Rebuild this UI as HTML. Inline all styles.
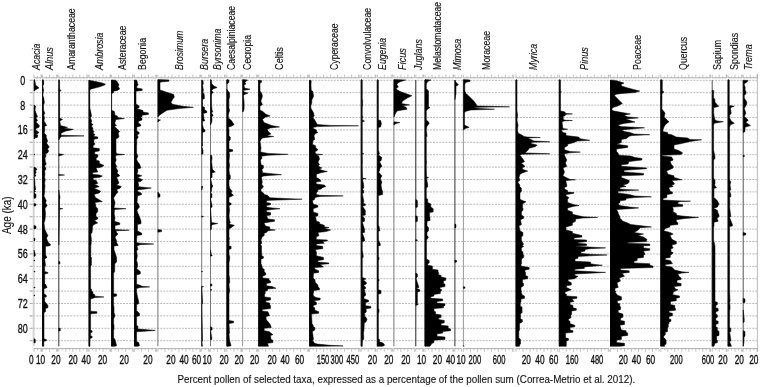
<!DOCTYPE html><html><head><meta charset="utf-8"><style>html,body{margin:0;padding:0;background:#fff;}svg{display:block;} text{stroke:#111;stroke-width:0.12px;} text.n{stroke-width:0.35px;}</style></head><body>
<svg font-family="Liberation Sans, Arial, sans-serif" fill="#111" width="760" height="387" viewBox="0 0 760 387">
<rect width="760" height="387" fill="#fff"/>
<path d="M30 80.3H757M30 92.7H757M30 105.1H757M30 117.5H757M30 129.9H757M30 142.3H757M30 154.7H757M30 167.1H757M30 179.5H757M30 191.9H757M30 204.3H757M30 216.7H757M30 229.1H757M30 241.5H757M30 253.9H757M30 266.3H757M30 278.7H757M30 291.1H757M30 303.5H757M30 315.9H757M30 328.3H757M30 340.7H757" stroke="#b4b4b4" stroke-width="0.9" stroke-dasharray="2 1.1" fill="none"/>
<path d="M29.5 80.3H33M29.5 92.7H33M29.5 105.1H33M29.5 117.5H33M29.5 129.9H33M29.5 142.3H33M29.5 154.7H33M29.5 167.1H33M29.5 179.5H33M29.5 191.9H33M29.5 204.3H33M29.5 216.7H33M29.5 229.1H33M29.5 241.5H33M29.5 253.9H33M29.5 266.3H33M29.5 278.7H33M29.5 291.1H33M29.5 303.5H33M29.5 315.9H33M29.5 328.3H33M29.5 340.7H33" stroke="#aaa" stroke-width="0.8" fill="none"/>
<path d="M33.2 80.0V346.3" stroke="#c8c8c8" stroke-width="0.8" fill="none"/>
<path d="M757.4 74V351" stroke="#aaa" stroke-width="0.8" fill="none"/>
<path d="M33.5 77.8H41.5M33.5 348.6H41.5M42.1 77.8H57.5M42.1 348.6H57.5M58.3 77.8H88.0M58.3 348.6H88.0M88.5 77.8H110.5M88.5 348.6H110.5M111.1 77.8H133.2M111.1 348.6H133.2M134.1 77.8H156.5M134.1 348.6H156.5M157.4 77.8H200.4M157.4 348.6H200.4M201.2 77.8H209.2M201.2 348.6H209.2M210.0 77.8H225.8M210.0 348.6H225.8M226.4 77.8H241.6M226.4 348.6H241.6M242.1 77.8H257.5M242.1 348.6H257.5M258.2 77.8H308.5M258.2 348.6H308.5M309.1 77.8H360.0M309.1 348.6H360.0M360.7 77.8H375.8M360.7 348.6H375.8M376.8 77.8H392.6M376.8 348.6H392.6M393.4 77.8H414.5M393.4 348.6H414.5M415.3 77.8H423.4M415.3 348.6H423.4M424.5 77.8H453.6M424.5 348.6H453.6M454.4 77.8H461.6M454.4 348.6H461.6M462.9 77.8H513.8M462.9 348.6H513.8M515.5 77.8H557.8M515.5 348.6H557.8M558.8 77.8H609.0M558.8 348.6H609.0M610.0 77.8H659.0M610.0 348.6H659.0M660.3 77.8H710.5M660.3 348.6H710.5M711.7 77.8H726.5M711.7 348.6H726.5M727.5 77.8H742.0M727.5 348.6H742.0M742.7 77.8H757.4M742.7 348.6H757.4" stroke="#9a9a9a" stroke-width="0.8" fill="none"/>
<path d="M34.0 77.8v-3.2M34.0 348.6v3.2M37.5 77.8v-1.6M37.5 348.6v1.6M41.0 77.8v-3.2M41.0 348.6v3.2M41.5 77.8v-3.2M41.5 348.6v3.2M42.6 77.8v-3.2M42.6 348.6v3.2M46.1 77.8v-1.6M46.1 348.6v1.6M49.6 77.8v-3.2M49.6 348.6v3.2M53.1 77.8v-1.6M53.1 348.6v1.6M56.6 77.8v-3.2M56.6 348.6v3.2M57.5 77.8v-3.2M57.5 348.6v3.2M58.8 77.8v-3.2M58.8 348.6v3.2M62.3 77.8v-1.6M62.3 348.6v1.6M65.8 77.8v-3.2M65.8 348.6v3.2M69.3 77.8v-1.6M69.3 348.6v1.6M72.8 77.8v-3.2M72.8 348.6v3.2M76.3 77.8v-1.6M76.3 348.6v1.6M79.8 77.8v-3.2M79.8 348.6v3.2M83.3 77.8v-1.6M83.3 348.6v1.6M86.8 77.8v-3.2M86.8 348.6v3.2M88.0 77.8v-3.2M88.0 348.6v3.2M89.0 77.8v-3.2M89.0 348.6v3.2M92.5 77.8v-1.6M92.5 348.6v1.6M96.0 77.8v-3.2M96.0 348.6v3.2M99.5 77.8v-1.6M99.5 348.6v1.6M103.0 77.8v-3.2M103.0 348.6v3.2M106.5 77.8v-1.6M106.5 348.6v1.6M110.0 77.8v-3.2M110.0 348.6v3.2M110.5 77.8v-3.2M110.5 348.6v3.2M111.6 77.8v-3.2M111.6 348.6v3.2M115.1 77.8v-1.6M115.1 348.6v1.6M118.6 77.8v-3.2M118.6 348.6v3.2M122.1 77.8v-1.6M122.1 348.6v1.6M125.6 77.8v-3.2M125.6 348.6v3.2M129.1 77.8v-1.6M129.1 348.6v1.6M132.6 77.8v-3.2M132.6 348.6v3.2M133.2 77.8v-3.2M133.2 348.6v3.2M134.6 77.8v-3.2M134.6 348.6v3.2M138.1 77.8v-1.6M138.1 348.6v1.6M141.6 77.8v-3.2M141.6 348.6v3.2M145.1 77.8v-1.6M145.1 348.6v1.6M148.6 77.8v-3.2M148.6 348.6v3.2M152.1 77.8v-1.6M152.1 348.6v1.6M155.6 77.8v-3.2M155.6 348.6v3.2M156.5 77.8v-3.2M156.5 348.6v3.2M157.9 77.8v-3.2M157.9 348.6v3.2M161.4 77.8v-1.6M161.4 348.6v1.6M164.9 77.8v-3.2M164.9 348.6v3.2M168.4 77.8v-1.6M168.4 348.6v1.6M171.9 77.8v-3.2M171.9 348.6v3.2M175.4 77.8v-1.6M175.4 348.6v1.6M178.9 77.8v-3.2M178.9 348.6v3.2M182.4 77.8v-1.6M182.4 348.6v1.6M185.9 77.8v-3.2M185.9 348.6v3.2M189.4 77.8v-1.6M189.4 348.6v1.6M192.9 77.8v-3.2M192.9 348.6v3.2M196.4 77.8v-1.6M196.4 348.6v1.6M199.9 77.8v-3.2M199.9 348.6v3.2M200.4 77.8v-3.2M200.4 348.6v3.2M201.7 77.8v-3.2M201.7 348.6v3.2M205.2 77.8v-1.6M205.2 348.6v1.6M208.7 77.8v-3.2M208.7 348.6v3.2M209.2 77.8v-3.2M209.2 348.6v3.2M210.5 77.8v-3.2M210.5 348.6v3.2M214.0 77.8v-1.6M214.0 348.6v1.6M217.5 77.8v-3.2M217.5 348.6v3.2M221.0 77.8v-1.6M221.0 348.6v1.6M224.5 77.8v-3.2M224.5 348.6v3.2M225.8 77.8v-3.2M225.8 348.6v3.2M226.9 77.8v-3.2M226.9 348.6v3.2M230.4 77.8v-1.6M230.4 348.6v1.6M233.9 77.8v-3.2M233.9 348.6v3.2M237.4 77.8v-1.6M237.4 348.6v1.6M240.9 77.8v-3.2M240.9 348.6v3.2M241.6 77.8v-3.2M241.6 348.6v3.2M242.6 77.8v-3.2M242.6 348.6v3.2M246.1 77.8v-1.6M246.1 348.6v1.6M249.6 77.8v-3.2M249.6 348.6v3.2M253.1 77.8v-1.6M253.1 348.6v1.6M256.6 77.8v-3.2M256.6 348.6v3.2M257.5 77.8v-3.2M257.5 348.6v3.2M258.7 77.8v-3.2M258.7 348.6v3.2M262.2 77.8v-1.6M262.2 348.6v1.6M265.7 77.8v-3.2M265.7 348.6v3.2M269.2 77.8v-1.6M269.2 348.6v1.6M272.7 77.8v-3.2M272.7 348.6v3.2M276.2 77.8v-1.6M276.2 348.6v1.6M279.7 77.8v-3.2M279.7 348.6v3.2M283.2 77.8v-1.6M283.2 348.6v1.6M286.7 77.8v-3.2M286.7 348.6v3.2M290.2 77.8v-1.6M290.2 348.6v1.6M293.7 77.8v-3.2M293.7 348.6v3.2M297.2 77.8v-1.6M297.2 348.6v1.6M300.7 77.8v-3.2M300.7 348.6v3.2M304.2 77.8v-1.6M304.2 348.6v1.6M307.7 77.8v-3.2M307.7 348.6v3.2M308.5 77.8v-3.2M308.5 348.6v3.2M309.6 77.8v-3.2M309.6 348.6v3.2M313.1 77.8v-1.6M313.1 348.6v1.6M316.6 77.8v-3.2M316.6 348.6v3.2M320.1 77.8v-1.6M320.1 348.6v1.6M323.6 77.8v-3.2M323.6 348.6v3.2M327.1 77.8v-1.6M327.1 348.6v1.6M330.6 77.8v-3.2M330.6 348.6v3.2M334.1 77.8v-1.6M334.1 348.6v1.6M337.6 77.8v-3.2M337.6 348.6v3.2M341.1 77.8v-1.6M341.1 348.6v1.6M344.6 77.8v-3.2M344.6 348.6v3.2M348.1 77.8v-1.6M348.1 348.6v1.6M351.6 77.8v-3.2M351.6 348.6v3.2M355.1 77.8v-1.6M355.1 348.6v1.6M358.6 77.8v-3.2M358.6 348.6v3.2M360.0 77.8v-3.2M360.0 348.6v3.2M361.2 77.8v-3.2M361.2 348.6v3.2M364.7 77.8v-1.6M364.7 348.6v1.6M368.2 77.8v-3.2M368.2 348.6v3.2M371.7 77.8v-1.6M371.7 348.6v1.6M375.2 77.8v-3.2M375.2 348.6v3.2M375.8 77.8v-3.2M375.8 348.6v3.2M377.3 77.8v-3.2M377.3 348.6v3.2M380.8 77.8v-1.6M380.8 348.6v1.6M384.3 77.8v-3.2M384.3 348.6v3.2M387.8 77.8v-1.6M387.8 348.6v1.6M391.3 77.8v-3.2M391.3 348.6v3.2M392.6 77.8v-3.2M392.6 348.6v3.2M393.9 77.8v-3.2M393.9 348.6v3.2M397.4 77.8v-1.6M397.4 348.6v1.6M400.9 77.8v-3.2M400.9 348.6v3.2M404.4 77.8v-1.6M404.4 348.6v1.6M407.9 77.8v-3.2M407.9 348.6v3.2M411.4 77.8v-1.6M411.4 348.6v1.6M414.5 77.8v-3.2M414.5 348.6v3.2M415.8 77.8v-3.2M415.8 348.6v3.2M419.3 77.8v-1.6M419.3 348.6v1.6M422.8 77.8v-3.2M422.8 348.6v3.2M423.4 77.8v-3.2M423.4 348.6v3.2M425.0 77.8v-3.2M425.0 348.6v3.2M428.5 77.8v-1.6M428.5 348.6v1.6M432.0 77.8v-3.2M432.0 348.6v3.2M435.5 77.8v-1.6M435.5 348.6v1.6M439.0 77.8v-3.2M439.0 348.6v3.2M442.5 77.8v-1.6M442.5 348.6v1.6M446.0 77.8v-3.2M446.0 348.6v3.2M449.5 77.8v-1.6M449.5 348.6v1.6M453.0 77.8v-3.2M453.0 348.6v3.2M453.6 77.8v-3.2M453.6 348.6v3.2M454.9 77.8v-3.2M454.9 348.6v3.2M458.4 77.8v-1.6M458.4 348.6v1.6M461.6 77.8v-3.2M461.6 348.6v3.2M463.4 77.8v-3.2M463.4 348.6v3.2M466.9 77.8v-1.6M466.9 348.6v1.6M470.4 77.8v-3.2M470.4 348.6v3.2M473.9 77.8v-1.6M473.9 348.6v1.6M477.4 77.8v-3.2M477.4 348.6v3.2M480.9 77.8v-1.6M480.9 348.6v1.6M484.4 77.8v-3.2M484.4 348.6v3.2M487.9 77.8v-1.6M487.9 348.6v1.6M491.4 77.8v-3.2M491.4 348.6v3.2M494.9 77.8v-1.6M494.9 348.6v1.6M498.4 77.8v-3.2M498.4 348.6v3.2M501.9 77.8v-1.6M501.9 348.6v1.6M505.4 77.8v-3.2M505.4 348.6v3.2M508.9 77.8v-1.6M508.9 348.6v1.6M512.4 77.8v-3.2M512.4 348.6v3.2M513.8 77.8v-3.2M513.8 348.6v3.2M516.0 77.8v-3.2M516.0 348.6v3.2M519.5 77.8v-1.6M519.5 348.6v1.6M523.0 77.8v-3.2M523.0 348.6v3.2M526.5 77.8v-1.6M526.5 348.6v1.6M530.0 77.8v-3.2M530.0 348.6v3.2M533.5 77.8v-1.6M533.5 348.6v1.6M537.0 77.8v-3.2M537.0 348.6v3.2M540.5 77.8v-1.6M540.5 348.6v1.6M544.0 77.8v-3.2M544.0 348.6v3.2M547.5 77.8v-1.6M547.5 348.6v1.6M551.0 77.8v-3.2M551.0 348.6v3.2M554.5 77.8v-1.6M554.5 348.6v1.6M557.8 77.8v-3.2M557.8 348.6v3.2M559.3 77.8v-3.2M559.3 348.6v3.2M562.8 77.8v-1.6M562.8 348.6v1.6M566.3 77.8v-3.2M566.3 348.6v3.2M569.8 77.8v-1.6M569.8 348.6v1.6M573.3 77.8v-3.2M573.3 348.6v3.2M576.8 77.8v-1.6M576.8 348.6v1.6M580.3 77.8v-3.2M580.3 348.6v3.2M583.8 77.8v-1.6M583.8 348.6v1.6M587.3 77.8v-3.2M587.3 348.6v3.2M590.8 77.8v-1.6M590.8 348.6v1.6M594.3 77.8v-3.2M594.3 348.6v3.2M597.8 77.8v-1.6M597.8 348.6v1.6M601.3 77.8v-3.2M601.3 348.6v3.2M604.8 77.8v-1.6M604.8 348.6v1.6M608.3 77.8v-3.2M608.3 348.6v3.2M609.0 77.8v-3.2M609.0 348.6v3.2M610.5 77.8v-3.2M610.5 348.6v3.2M614.0 77.8v-1.6M614.0 348.6v1.6M617.5 77.8v-3.2M617.5 348.6v3.2M621.0 77.8v-1.6M621.0 348.6v1.6M624.5 77.8v-3.2M624.5 348.6v3.2M628.0 77.8v-1.6M628.0 348.6v1.6M631.5 77.8v-3.2M631.5 348.6v3.2M635.0 77.8v-1.6M635.0 348.6v1.6M638.5 77.8v-3.2M638.5 348.6v3.2M642.0 77.8v-1.6M642.0 348.6v1.6M645.5 77.8v-3.2M645.5 348.6v3.2M649.0 77.8v-1.6M649.0 348.6v1.6M652.5 77.8v-3.2M652.5 348.6v3.2M656.0 77.8v-1.6M656.0 348.6v1.6M659.0 77.8v-3.2M659.0 348.6v3.2M660.8 77.8v-3.2M660.8 348.6v3.2M664.3 77.8v-1.6M664.3 348.6v1.6M667.8 77.8v-3.2M667.8 348.6v3.2M671.3 77.8v-1.6M671.3 348.6v1.6M674.8 77.8v-3.2M674.8 348.6v3.2M678.3 77.8v-1.6M678.3 348.6v1.6M681.8 77.8v-3.2M681.8 348.6v3.2M685.3 77.8v-1.6M685.3 348.6v1.6M688.8 77.8v-3.2M688.8 348.6v3.2M692.3 77.8v-1.6M692.3 348.6v1.6M695.8 77.8v-3.2M695.8 348.6v3.2M699.3 77.8v-1.6M699.3 348.6v1.6M702.8 77.8v-3.2M702.8 348.6v3.2M706.3 77.8v-1.6M706.3 348.6v1.6M709.8 77.8v-3.2M709.8 348.6v3.2M710.5 77.8v-3.2M710.5 348.6v3.2M712.2 77.8v-3.2M712.2 348.6v3.2M715.7 77.8v-1.6M715.7 348.6v1.6M719.2 77.8v-3.2M719.2 348.6v3.2M722.7 77.8v-1.6M722.7 348.6v1.6M726.2 77.8v-3.2M726.2 348.6v3.2M726.5 77.8v-3.2M726.5 348.6v3.2M728.0 77.8v-3.2M728.0 348.6v3.2M731.5 77.8v-1.6M731.5 348.6v1.6M735.0 77.8v-3.2M735.0 348.6v3.2M738.5 77.8v-1.6M738.5 348.6v1.6M742.0 77.8v-3.2M742.0 348.6v3.2M742.0 77.8v-3.2M742.0 348.6v3.2M743.2 77.8v-3.2M743.2 348.6v3.2M746.7 77.8v-1.6M746.7 348.6v1.6M750.2 77.8v-3.2M750.2 348.6v3.2M753.7 77.8v-1.6M753.7 348.6v1.6M757.2 77.8v-3.2M757.2 348.6v3.2M757.4 77.8v-3.2M757.4 348.6v3.2" stroke="#aaa" stroke-width="0.7" fill="none"/>
<path d="M34.0 80.0V346.3" stroke="#c4c4c4" stroke-width="1" fill="none"/>
<path d="M34.00 79.60L34.80 80.00L35.50 85.00L39.00 87.90L36.00 89.50L34.00 91.00ZM34.00 105.00L35.50 106.00L35.00 110.00L36.00 113.00L37.50 116.50L36.00 118.00L37.50 120.40L36.00 122.00L39.40 125.40L39.00 127.30L36.00 128.50L35.50 130.00L38.90 132.30L38.00 133.50L36.00 134.50L37.90 135.20L37.50 137.20L35.00 138.00L34.00 139.00ZM34.00 154.00L35.00 154.50L34.00 155.00ZM34.00 167.00L36.00 168.00L36.80 169.50L35.50 171.00L36.20 172.70L35.00 174.00L36.00 175.80L34.00 177.00ZM34.00 177.00L34.80 180.00L35.00 185.00L35.70 189.70L34.00 191.00ZM34.00 191.00L35.70 191.30L34.00 192.50ZM34.00 192.50L36.00 194.50L36.00 197.60L34.00 198.50ZM34.00 203.50L36.00 204.00L36.00 205.50L34.00 206.20ZM34.00 225.50L36.00 226.00L36.00 228.40L34.00 229.00ZM34.00 237.90L35.00 238.70L35.00 240.30L34.00 241.00ZM34.00 250.00L35.30 254.20L35.30 255.80L34.00 256.50ZM34.00 260.00L35.00 260.50L34.00 261.00ZM34.00 271.20L35.20 271.60L34.00 272.00ZM34.00 287.00L35.30 287.40L34.00 288.00ZM34.00 295.00L35.00 295.30L34.00 296.00ZM34.00 338.60L35.30 339.40L35.30 342.60L34.00 343.00Z" fill="#000" stroke="#000" stroke-width="0.5" stroke-linejoin="round"/>
<path d="M42.6 80.0V346.3" stroke="#111" stroke-width="1" fill="none"/>
<path d="M42.60 79.60L43.50 80.00L43.80 84.00L42.60 86.00ZM42.60 86.00L43.60 90.00L42.60 95.00ZM42.60 95.00L43.80 98.00L44.40 102.70L43.50 105.00L43.60 110.00L44.80 113.50L43.80 115.00L44.50 118.00L44.00 121.00L46.70 125.40L44.50 126.50L44.80 130.00L44.20 133.00L46.30 135.20L46.30 136.50L46.30 137.50L47.70 141.20L46.50 143.00L49.30 147.00L47.50 149.00L48.70 151.00L47.50 153.00L45.30 154.00L46.00 156.00L45.00 158.00L45.30 161.60L46.30 164.00L44.70 166.00L46.00 169.00L44.60 171.00L45.00 174.00L44.60 177.00L45.20 180.00L44.60 183.00L45.00 186.00L44.60 190.00L44.80 192.00L44.50 192.90L44.00 196.00L45.50 199.20L46.30 200.80L45.50 203.00L47.10 205.50L46.00 207.10L45.00 208.70L45.50 214.00L45.00 219.80L44.00 222.90L44.80 229.20L45.50 230.80L46.50 233.00L47.90 235.60L46.50 238.00L47.10 240.00L48.70 243.20L50.30 244.00L50.30 245.50L48.70 246.00L45.50 246.30L45.50 249.50L45.50 254.20L45.50 255.00L47.00 257.40L44.70 259.00L45.50 265.30L44.70 266.90L44.70 271.60L47.90 272.40L47.90 273.20L44.70 274.00L44.70 283.40L45.50 284.20L46.00 285.00L47.10 287.40L44.00 289.00L44.00 293.70L46.30 295.30L46.30 296.90L44.00 297.50L44.70 298.30L44.70 301.50L47.90 305.40L47.90 307.80L45.50 308.60L45.50 311.70L44.00 312.50L44.00 339.00L46.30 339.40L46.30 340.70L43.80 341.30L43.80 346.30L42.60 346.30Z" fill="#000" stroke="#000" stroke-width="0.5" stroke-linejoin="round"/>
<path d="M58.8 80.0V346.3" stroke="#333" stroke-width="1" fill="none"/>
<path d="M58.80 79.60L59.50 80.00L59.60 89.00L60.80 90.50L59.60 92.00L59.70 118.00L62.50 119.40L59.80 121.00L60.50 125.50L64.00 126.50L67.50 127.30L64.00 128.20L73.40 129.30L70.00 130.20L66.00 131.00L63.00 132.30L61.00 133.50L61.00 135.20L84.00 135.90L61.00 136.40L60.00 138.00L58.80 140.00ZM58.80 153.80L63.70 154.50L58.80 156.00ZM58.80 174.40L64.50 175.00L58.80 175.60ZM58.80 190.00L59.50 195.00L60.00 197.00L59.50 200.00L59.50 208.20L62.90 208.70L59.50 209.30L58.80 245.00ZM58.80 261.20L60.00 262.00L60.00 263.70L58.80 264.00ZM58.80 328.00L60.30 328.30L60.30 330.70L58.80 331.00Z" fill="#000" stroke="#000" stroke-width="0.5" stroke-linejoin="round"/>
<path d="M89.0 80.0V346.3" stroke="#111" stroke-width="1" fill="none"/>
<path d="M89.00 80.30L93.00 81.00L98.00 82.00L103.00 83.20L105.50 84.20L104.50 85.00L102.00 86.00L99.00 87.00L95.00 88.00L91.50 88.90L89.80 89.80L89.80 108.00L90.80 112.00L91.50 116.00L90.50 118.00L91.80 121.00L91.00 123.00L93.00 124.50L91.50 126.00L93.00 128.50L92.60 130.00L94.00 131.50L93.00 133.00L95.00 134.50L93.50 136.20L97.80 137.00L97.80 138.50L93.90 139.30L93.90 142.40L94.70 143.20L94.70 144.70L93.10 145.50L93.10 147.80L99.30 148.60L99.30 150.90L94.70 151.70L94.70 154.00L97.80 154.80L97.80 157.10L96.20 157.90L96.20 160.20L99.30 161.00L99.30 163.30L101.00 164.10L104.00 165.60L101.00 167.20L96.00 168.00L97.80 171.90L92.60 172.60L92.60 174.20L99.30 175.00L102.40 176.00L100.00 177.30L93.10 178.00L93.10 179.60L96.20 180.40L97.80 183.50L94.00 184.50L96.10 185.00L99.20 186.60L94.00 188.20L99.20 190.50L100.80 191.30L99.20 192.90L94.00 194.50L95.50 197.60L100.80 200.80L102.40 201.60L95.00 202.40L96.00 207.10L97.70 208.70L97.70 211.90L96.00 213.40L96.00 216.60L97.70 217.40L97.70 219.00L94.50 220.50L97.70 222.90L94.00 224.50L92.60 226.00L92.10 232.40L90.80 234.00L91.40 240.00L91.00 245.00L90.80 246.00L90.80 256.60L91.40 257.40L91.40 265.30L90.60 266.00L90.60 288.50L91.40 289.00L91.40 290.60L92.90 292.10L92.90 293.70L94.50 294.50L95.00 296.20L104.00 297.00L95.00 297.60L92.90 298.30L90.60 299.00L90.60 311.20L96.90 311.70L96.90 313.30L90.60 313.80L90.60 330.30L92.10 330.70L92.10 332.30L90.60 332.70L90.60 336.00L92.10 336.20L92.10 337.80L90.60 338.20L90.00 339.00L90.00 346.30L89.00 346.30Z" fill="#000" stroke="#000" stroke-width="0.5" stroke-linejoin="round"/>
<path d="M111.6 80.0V346.3" stroke="#111" stroke-width="1" fill="none"/>
<path d="M111.60 79.90L115.90 80.30L117.40 81.90L118.20 83.40L119.00 85.00L118.20 86.50L119.70 88.90L117.40 90.40L113.50 91.20L113.50 92.70L111.60 93.50ZM111.60 110.50L114.30 111.30L115.00 115.20L117.40 116.00L117.40 117.50L124.40 118.60L116.00 119.50L115.00 122.20L115.00 124.50L116.60 125.30L114.50 126.50L117.40 129.20L119.70 131.50L118.20 133.00L118.50 134.50L119.00 136.50L118.00 138.00L116.00 138.80L116.00 152.00L116.50 153.80L124.50 154.50L116.00 155.30L115.50 156.90L116.20 160.00L115.00 163.00L116.60 166.30L116.00 168.00L118.00 171.00L117.00 173.00L119.80 175.80L116.60 177.40L118.00 180.60L119.00 183.00L116.60 185.00L121.40 186.50L120.00 188.20L116.60 189.70L118.00 192.10L115.80 194.50L113.60 198.00L115.00 202.40L114.00 208.00L126.10 208.70L114.50 209.50L114.20 214.00L115.00 218.00L114.50 221.30L119.80 222.90L119.80 224.50L115.00 225.50L115.00 229.50L129.30 230.20L116.00 230.80L116.60 232.40L118.00 234.00L116.60 235.60L115.00 237.10L116.60 241.00L116.60 242.40L118.20 245.50L114.50 246.00L114.00 246.30L114.00 249.50L116.60 257.40L116.60 262.10L114.70 263.70L114.70 271.60L113.60 273.20L113.60 284.20L113.60 285.80L113.60 293.70L116.60 294.00L116.60 296.10L113.60 296.70L113.60 301.50L113.60 304.60L114.00 307.80L114.00 311.00L114.00 312.50L115.00 315.70L113.60 318.90L113.60 323.60L114.00 325.20L114.00 328.30L113.60 331.50L113.60 337.80L115.00 339.40L116.60 345.70L115.00 346.30L111.60 346.30Z" fill="#000" stroke="#000" stroke-width="0.5" stroke-linejoin="round"/>
<path d="M134.6 80.0V346.3" stroke="#111" stroke-width="1" fill="none"/>
<path d="M134.60 79.90L136.80 80.30L137.60 83.40L138.30 85.00L136.80 86.00L136.80 88.00L142.20 88.90L142.20 90.40L136.00 91.20L136.00 93.50L136.00 103.60L136.70 104.40L139.10 106.00L139.10 107.50L136.70 108.50L143.00 110.60L143.00 112.10L148.40 112.90L148.40 114.40L142.00 115.20L142.00 116.80L140.00 117.50L142.00 118.30L142.00 119.90L138.30 121.40L138.30 123.00L140.70 124.50L140.70 126.00L136.80 127.00L136.80 131.00L139.10 132.30L139.10 133.80L137.00 135.00L138.30 137.00L137.00 139.00L136.70 140.00L136.80 144.20L136.60 145.00L136.60 152.00L136.60 153.00L137.90 156.00L136.60 159.00L137.50 161.60L139.50 164.00L140.20 166.00L141.00 167.90L137.50 169.00L137.90 171.00L137.00 174.20L141.80 175.80L137.50 177.40L142.60 179.80L141.00 181.30L137.90 182.00L138.70 185.00L138.00 186.60L145.00 187.40L151.30 188.00L145.00 189.00L138.70 189.70L137.00 191.00L141.00 192.90L141.80 193.70L141.50 194.50L137.50 196.00L137.00 202.40L138.00 203.20L139.50 207.10L138.00 208.70L137.00 210.30L138.00 213.40L138.70 215.00L140.30 219.00L141.00 221.30L141.00 223.70L137.50 224.50L137.50 230.80L141.80 233.20L141.80 234.80L137.00 235.60L136.60 240.00L136.60 242.40L140.00 243.20L153.70 244.00L140.00 244.70L137.00 246.00L137.00 246.30L137.90 249.50L136.60 251.00L137.30 255.80L136.60 260.50L137.50 263.70L137.50 266.90L136.60 268.40L140.30 271.60L140.30 274.00L136.60 274.80L136.60 284.20L139.50 285.00L142.00 286.30L149.70 286.90L140.00 287.50L136.60 288.50L136.60 292.00L137.50 296.70L138.70 301.50L138.70 303.80L136.60 304.50L136.60 311.00L137.90 311.70L139.50 313.50L139.50 315.70L136.60 316.50L136.60 325.50L137.90 326.00L137.90 329.10L145.00 329.60L155.30 330.40L145.00 331.20L136.60 331.80L136.60 341.50L138.70 342.60L139.50 345.70L138.00 346.30L134.60 346.30Z" fill="#000" stroke="#000" stroke-width="0.5" stroke-linejoin="round"/>
<path d="M157.9 80.0V346.3" stroke="#777" stroke-width="1" fill="none"/>
<path d="M157.90 79.60L169.00 80.00L169.00 81.30L160.50 82.00L160.00 83.00L160.00 90.00L163.00 91.00L173.70 94.40L174.30 97.00L172.40 99.70L171.00 102.30L172.40 104.30L183.00 106.30L193.50 107.30L179.00 108.60L167.00 110.20L163.00 112.80L159.20 115.50L157.90 117.00ZM157.90 119.50L160.50 120.00L159.00 121.00L157.90 122.00ZM157.90 192.00L160.00 194.50L160.00 196.80L157.90 197.50ZM157.90 229.50L161.60 230.00L161.60 231.60L157.90 232.20Z" fill="#000" stroke="#000" stroke-width="0.5" stroke-linejoin="round"/>
<path d="M201.7 80.0V346.3" stroke="#777" stroke-width="1" fill="none"/>
<path d="M201.70 80.00L203.00 80.40L203.30 84.30L202.50 85.00L203.30 89.80L203.30 91.40L202.50 92.00L204.10 93.80L204.50 98.50L202.50 99.50L202.60 106.50L204.50 107.20L204.50 109.60L206.80 111.20L206.80 112.80L203.00 113.50L203.50 114.30L204.00 119.00L204.80 120.70L202.40 121.50L202.50 125.00L203.50 128.50L205.00 130.00L205.00 131.60L202.50 132.50L202.40 144.00L202.70 145.00L202.70 145.80L201.70 146.50ZM201.70 146.50L203.00 150.50L203.00 153.70L201.70 154.50ZM201.70 186.00L202.80 186.50L201.70 190.00ZM201.70 216.00L203.50 216.60L201.70 217.20ZM201.70 271.30L202.60 271.60L201.70 272.00ZM201.70 286.20L203.50 286.60L201.70 287.20ZM201.70 287.20L202.60 302.30L202.60 303.80L201.70 304.20ZM201.70 304.20L202.50 339.40L202.50 341.00L201.70 342.00ZM201.70 342.00L202.50 346.30L201.70 346.30Z" fill="#000" stroke="#000" stroke-width="0.5" stroke-linejoin="round"/>
<path d="M210.5 80.0V346.3" stroke="#777" stroke-width="1" fill="none"/>
<path d="M210.50 79.60L211.50 80.00L211.80 84.00L214.00 86.00L217.10 87.50L213.00 89.00L211.60 90.50L213.20 92.40L211.50 94.00L211.60 105.00L212.00 110.00L212.80 111.50L211.50 113.00L213.20 115.50L211.50 117.00L212.00 118.10L211.80 122.00L210.50 125.00ZM210.50 155.00L211.60 155.30L212.10 158.00L211.60 161.60L212.10 166.30L212.50 169.50L215.30 171.90L212.00 173.00L212.10 174.20L212.10 177.40L210.50 178.00ZM210.50 178.00L212.10 185.00L212.90 186.00L212.00 187.40L211.60 189.00L211.60 191.30L210.50 192.00ZM210.50 192.00L211.90 194.50L211.90 197.60L210.50 198.50ZM210.50 198.50L212.10 205.50L212.10 207.10L210.50 208.00ZM210.50 208.00L211.50 222.50L217.70 223.50L213.00 224.50L211.50 225.30L211.50 229.20L210.50 230.00ZM210.50 250.00L211.40 254.80L212.10 255.00L212.10 255.80L210.50 256.20ZM210.50 284.00L212.00 284.20L212.00 285.80L210.50 286.20ZM210.50 289.50L212.00 289.80L210.50 290.40ZM210.50 326.70L212.10 327.50L212.10 329.90L210.50 330.30ZM210.50 330.30L211.80 337.80L211.80 339.40L210.50 339.80Z" fill="#000" stroke="#000" stroke-width="0.5" stroke-linejoin="round"/>
<path d="M226.9 80.0V346.3" stroke="#111" stroke-width="1" fill="none"/>
<path d="M226.90 79.60L228.90 80.00L228.90 82.60L226.90 84.00ZM226.90 89.20L228.00 91.00L229.60 93.10L229.60 97.00L228.90 99.70L228.90 107.60L229.60 110.20L228.90 112.80L228.30 115.50L228.50 118.00L231.60 120.70L233.00 123.00L234.20 124.40L232.00 126.00L228.50 127.00L229.00 130.00L229.00 133.00L229.00 136.00L230.30 137.10L230.30 139.50L229.00 141.00L229.00 149.00L232.70 149.70L232.70 151.30L229.00 152.00L229.50 155.00L229.00 161.60L229.50 165.00L229.00 170.00L229.50 174.20L230.30 175.80L230.30 179.00L229.00 180.00L229.00 185.00L229.50 188.20L231.10 189.70L232.00 191.30L231.00 193.00L233.50 195.30L231.00 196.50L229.00 197.60L229.00 202.40L231.10 203.20L231.10 204.70L229.00 205.50L229.50 210.00L229.00 216.60L229.50 219.80L230.30 222.90L229.00 224.00L234.30 225.30L231.00 227.70L229.00 229.20L229.00 237.10L229.50 238.70L229.00 240.00L229.20 243.20L229.00 246.00L231.10 246.30L231.10 248.70L229.00 249.50L229.00 252.60L229.00 254.20L229.70 257.00L229.50 260.50L229.00 262.10L229.00 265.30L229.00 266.00L229.00 271.60L229.00 274.80L229.50 278.00L229.70 281.90L229.00 284.20L229.20 287.40L229.70 289.80L229.50 292.10L229.00 293.70L229.00 298.30L229.10 300.70L229.00 301.50L229.00 310.00L229.00 320.40L233.50 321.20L233.50 322.80L229.00 323.60L229.50 333.10L229.00 334.00L229.50 340.20L231.10 345.70L229.00 346.30L226.90 346.30Z" fill="#000" stroke="#000" stroke-width="0.5" stroke-linejoin="round"/>
<path d="M242.6 80.0V346.3" stroke="#999" stroke-width="1" fill="none"/>
<path d="M242.60 79.60L247.40 80.00L246.00 81.50L244.70 82.60L246.00 83.90L244.00 85.00L244.50 88.00L250.00 89.20L243.40 90.50L244.00 92.00L248.00 93.10L244.50 94.50L243.40 95.70L244.10 102.00L244.10 109.00L243.40 111.50L242.60 112.00Z" fill="#000" stroke="#000" stroke-width="0.5" stroke-linejoin="round"/>
<path d="M258.7 80.0V346.3" stroke="#111" stroke-width="1" fill="none"/>
<path d="M258.70 80.20L261.60 80.60L261.60 82.20L260.00 83.00L260.00 91.00L261.60 93.00L262.40 96.00L261.60 99.00L260.80 101.00L262.40 104.70L260.00 106.00L260.00 110.00L263.20 111.70L265.50 114.00L270.20 116.00L265.50 117.10L262.40 119.40L264.00 122.50L271.70 125.60L279.50 126.90L270.20 128.00L267.00 129.50L268.60 131.80L270.90 134.10L267.00 135.70L273.70 136.50L262.60 137.90L261.00 139.50L260.00 141.80L260.50 144.00L261.00 148.00L260.50 152.00L268.00 153.40L287.90 154.30L268.00 155.30L261.50 156.20L261.80 156.90L261.80 158.40L260.50 160.00L261.00 164.80L263.40 165.50L263.40 168.00L262.00 169.50L262.60 172.70L269.00 173.40L281.60 174.70L269.00 175.40L262.60 176.20L261.50 177.40L262.20 182.10L262.00 183.00L261.80 185.00L263.40 186.00L262.50 188.20L261.00 189.00L261.00 191.30L263.40 192.90L264.20 194.50L267.40 195.30L269.00 196.80L270.00 197.80L302.10 199.20L270.00 200.30L266.50 200.80L266.50 202.40L270.50 203.20L270.50 204.70L266.50 205.50L266.50 207.10L272.00 207.90L280.00 208.70L272.00 209.50L266.50 210.30L266.50 211.90L270.50 212.60L270.50 215.00L266.50 215.80L268.00 219.00L274.50 219.80L274.50 221.30L264.00 222.90L265.50 226.00L269.70 226.90L269.70 229.20L275.30 230.00L268.00 230.80L266.50 232.40L264.20 233.20L264.20 235.60L262.00 237.00L261.00 240.00L261.80 243.20L260.50 244.70L261.50 246.00L261.50 251.00L261.80 254.20L261.80 255.80L263.40 256.60L263.40 258.20L261.00 259.00L261.00 263.70L261.80 265.30L262.60 268.40L264.20 269.20L264.20 271.60L265.80 273.20L265.80 274.80L262.60 276.30L262.60 277.90L269.00 278.70L269.00 280.30L270.50 281.00L270.50 282.70L266.50 283.40L266.50 285.80L272.10 286.60L274.00 287.50L276.00 288.20L267.50 289.00L267.50 290.60L265.20 291.30L265.20 293.70L264.50 294.50L264.50 296.90L270.50 297.70L270.50 300.00L265.80 300.80L265.80 301.50L265.80 302.30L269.70 303.00L269.70 304.60L270.50 305.40L270.50 308.60L262.20 309.40L262.20 311.00L268.00 311.70L269.50 315.70L266.10 316.50L266.10 319.60L267.00 320.40L269.50 323.60L270.20 324.40L271.30 327.50L264.20 328.30L264.20 330.70L269.00 331.50L272.90 334.70L270.50 335.40L271.00 339.40L272.90 340.20L272.90 342.60L267.50 343.30L268.50 346.30L258.70 346.30Z" fill="#000" stroke="#000" stroke-width="0.5" stroke-linejoin="round"/>
<path d="M309.6 80.0V346.3" stroke="#111" stroke-width="1" fill="none"/>
<path d="M309.60 80.20L311.20 80.60L311.00 85.00L311.20 90.00L312.80 91.50L313.60 96.20L311.80 100.00L311.80 103.00L310.80 106.00L310.80 108.00L313.40 112.60L314.20 115.80L313.00 117.40L315.00 120.50L315.80 122.00L317.40 124.50L330.00 125.40L358.50 125.80L330.00 126.20L317.40 126.60L314.20 127.20L312.50 128.00L316.40 130.00L316.40 131.60L318.00 132.40L314.80 134.00L314.00 136.00L314.80 139.50L313.20 140.30L312.40 144.20L315.60 145.80L315.60 147.40L318.00 149.70L315.00 152.10L316.00 154.00L322.70 154.50L316.00 155.00L318.70 156.00L319.50 159.20L318.00 162.00L319.50 164.80L318.00 166.00L321.90 167.90L319.00 169.00L322.00 170.30L327.40 171.50L321.00 172.70L316.50 174.20L316.30 177.40L319.50 179.00L321.00 181.30L316.00 182.00L316.40 184.00L324.30 185.00L325.80 186.60L323.00 187.40L321.00 189.00L317.90 189.70L317.90 191.30L316.30 192.90L316.30 194.50L320.00 195.30L343.20 195.90L320.00 196.40L314.80 197.60L314.80 199.20L312.40 200.80L313.20 204.00L317.90 205.50L317.90 207.10L313.20 208.70L313.20 211.90L317.90 213.40L317.90 215.80L315.50 216.60L316.50 221.30L319.50 222.10L319.50 223.70L324.30 225.30L324.30 226.90L329.00 227.50L324.30 228.40L328.00 229.20L330.60 230.00L326.00 231.60L317.90 232.40L319.00 235.60L316.30 237.00L316.30 239.50L327.40 240.00L327.40 240.80L322.70 241.60L324.30 243.20L316.40 244.00L316.40 245.50L320.00 246.00L322.70 246.30L322.70 248.70L315.50 249.50L316.50 252.60L316.40 254.20L316.40 255.80L323.50 257.40L323.50 259.70L317.90 260.50L317.90 262.10L328.90 262.90L328.90 263.70L320.00 264.50L323.50 266.90L314.80 267.60L314.80 269.20L318.70 270.80L318.70 272.40L313.50 273.20L313.20 277.90L314.80 279.50L315.50 282.70L317.90 285.00L317.90 286.60L319.50 288.20L319.50 289.80L314.00 290.60L313.20 293.70L313.20 294.50L313.50 296.00L316.00 297.50L320.30 298.30L320.00 299.90L313.50 300.70L316.40 302.30L316.40 304.60L313.20 305.40L313.20 307.00L314.80 307.80L314.80 310.20L318.70 311.70L318.70 313.30L311.50 314.10L312.00 323.60L313.20 325.20L313.20 326.80L314.80 327.50L314.80 329.90L312.40 331.50L313.50 339.40L312.50 340.20L314.50 343.30L317.40 344.10L330.00 345.30L343.20 345.90L320.00 346.30L309.60 346.30Z" fill="#000" stroke="#000" stroke-width="0.5" stroke-linejoin="round"/>
<path d="M361.2 80.0V346.3" stroke="#333" stroke-width="1" fill="none"/>
<path d="M361.20 79.60L362.30 80.00L362.30 99.00L362.60 99.70L362.60 106.00L362.30 107.00L362.30 116.00L362.90 117.00L362.30 118.00L362.30 120.00L364.50 121.00L362.30 122.00L362.30 150.00L362.30 153.00L363.70 153.70L362.30 154.40L362.50 163.20L362.30 164.00L362.50 178.20L366.10 178.60L362.50 179.20L363.70 185.00L363.70 188.20L362.30 189.00L363.70 190.50L363.70 192.90L362.30 193.50L363.70 200.80L363.70 202.40L362.30 203.00L365.30 204.00L365.30 205.50L362.30 206.00L365.30 210.30L365.30 215.00L362.30 215.80L364.50 218.20L364.50 221.30L362.30 222.00L364.50 229.20L364.50 232.40L362.30 233.00L364.50 238.70L364.50 241.00L362.30 241.70L362.30 245.00L362.30 246.00L362.30 250.00L363.20 255.80L363.20 257.40L362.30 258.00L362.30 277.50L365.50 278.50L365.50 279.30L363.50 280.00L366.30 282.40L366.30 284.00L364.00 285.00L364.00 286.30L365.50 287.00L365.50 288.60L364.00 289.50L364.70 290.20L364.70 291.70L365.50 293.30L365.50 295.60L364.00 296.40L364.00 298.70L368.60 300.20L368.60 301.80L365.50 302.60L365.50 305.70L370.90 306.40L370.90 308.00L366.00 308.80L366.30 311.90L364.70 313.40L364.70 316.50L366.00 317.30L367.00 319.50L366.00 321.90L364.30 322.70L364.00 330.00L363.50 333.00L363.70 337.00L363.70 339.40L362.50 340.00L362.30 346.30L361.20 346.30Z" fill="#000" stroke="#000" stroke-width="0.5" stroke-linejoin="round"/>
<path d="M377.3 80.0V346.3" stroke="#222" stroke-width="1" fill="none"/>
<path d="M377.30 79.60L378.40 80.00L378.40 120.00L380.60 120.50L381.40 123.70L380.60 126.90L378.40 127.50L378.40 130.00L378.40 150.00L379.50 153.70L378.50 155.00L381.90 157.60L381.00 160.80L379.50 161.60L381.90 166.30L380.00 168.00L379.50 171.00L378.50 172.00L381.90 175.80L381.00 177.40L380.30 179.00L381.90 182.00L381.00 185.00L381.90 189.70L382.60 191.30L382.60 194.50L378.40 195.50L378.50 210.30L378.50 216.60L378.40 217.00L378.40 225.20L379.00 226.00L379.80 230.80L378.40 231.50L378.50 240.00L380.30 244.00L380.30 245.50L378.40 246.00L378.40 246.50L378.40 256.60L379.00 257.40L379.00 259.70L378.40 260.20L378.40 278.70L379.00 279.50L379.00 281.00L378.40 281.50L378.40 289.80L381.00 290.60L381.00 292.90L381.00 293.60L378.40 294.00L378.40 308.60L379.00 309.40L379.00 312.50L378.40 313.00L378.40 338.60L379.50 339.40L379.50 341.00L379.50 342.00L382.00 342.60L384.20 344.00L384.20 345.70L382.00 346.30L377.30 346.30Z" fill="#000" stroke="#000" stroke-width="0.5" stroke-linejoin="round"/>
<path d="M393.9 80.0V346.3" stroke="#777" stroke-width="1" fill="none"/>
<path d="M393.90 79.60L405.60 80.00L400.80 81.50L397.70 83.10L396.90 84.70L398.40 87.10L396.10 88.60L397.70 90.20L400.80 91.80L405.60 93.40L411.90 95.70L407.10 98.10L402.40 101.30L401.60 103.60L409.50 104.90L402.40 105.80L406.00 107.30L407.10 109.20L397.70 110.80L396.10 112.30L395.30 113.90L393.90 117.00ZM393.90 121.80L400.00 122.60L396.00 123.50L393.90 125.00Z" fill="#000" stroke="#000" stroke-width="0.5" stroke-linejoin="round"/>
<path d="M415.8 80.0V346.3" stroke="#222" stroke-width="1" fill="none"/>
<path d="M415.80 199.60L416.80 200.00L417.40 200.80L417.40 207.10L415.80 207.60ZM415.80 215.80L417.40 216.60L417.40 221.30L415.80 222.00ZM415.80 239.50L417.60 240.30L415.80 241.00ZM415.80 273.00L417.40 274.00L417.40 277.00L415.80 278.00ZM415.80 278.00L418.40 285.80L419.00 287.40L415.80 288.00ZM415.80 288.00L419.80 289.80L419.80 291.30L417.40 292.00L417.40 303.80L418.20 304.60L415.80 305.40Z" fill="#000" stroke="#000" stroke-width="0.5" stroke-linejoin="round"/>
<path d="M425.0 80.0V346.3" stroke="#111" stroke-width="1" fill="none"/>
<path d="M425.00 79.60L430.80 80.00L427.70 81.50L426.30 84.00L426.30 88.60L428.50 91.00L428.50 92.00L428.50 106.80L430.00 107.60L427.70 109.20L426.30 110.80L426.30 120.00L428.50 121.80L429.20 123.40L426.80 126.60L426.30 130.00L426.90 134.70L426.90 136.30L426.30 137.00L426.30 160.00L426.60 162.00L426.30 165.00L426.50 177.00L428.50 177.40L426.50 178.50L427.70 184.50L427.70 185.00L427.70 187.00L426.30 188.00L426.30 198.00L427.70 199.20L427.70 202.40L430.80 204.00L430.80 207.10L433.20 208.70L433.20 210.30L433.20 211.90L429.50 212.60L429.50 216.60L430.00 217.40L430.00 220.50L427.00 221.30L427.00 226.00L428.50 227.70L428.50 230.80L427.00 232.40L427.00 235.60L428.50 237.10L426.50 240.00L426.50 246.00L426.50 246.30L426.50 259.00L429.20 260.50L429.20 262.90L427.70 263.70L427.70 265.30L432.40 266.00L432.40 269.20L438.00 270.00L438.00 271.60L438.70 273.20L438.70 274.80L441.10 275.50L441.10 277.10L445.80 277.90L445.80 280.30L443.50 281.00L443.50 283.40L445.00 284.20L445.00 286.60L440.00 287.40L440.00 289.00L441.90 289.80L440.30 292.00L440.30 293.60L434.00 294.40L434.00 296.00L430.80 296.70L430.80 298.30L442.70 299.10L442.70 300.70L437.00 301.50L437.00 303.10L445.00 303.80L445.00 305.40L443.50 306.20L443.50 307.80L434.00 308.60L434.00 311.00L435.50 311.70L435.50 314.10L441.10 314.90L441.10 317.30L438.70 318.00L438.70 319.60L444.30 320.40L444.30 322.80L441.10 323.60L441.10 325.20L448.20 326.00L448.20 328.30L450.60 329.10L450.60 330.70L442.70 331.50L442.70 333.10L437.00 333.90L437.00 336.20L445.00 337.00L445.00 339.40L434.00 340.20L434.00 342.60L432.00 343.30L430.00 346.30L425.00 346.30Z" fill="#000" stroke="#000" stroke-width="0.5" stroke-linejoin="round"/>
<path d="M454.9 80.0V346.3" stroke="#333" stroke-width="1" fill="none"/>
<path d="M454.90 80.00L456.00 82.30L458.40 84.70L456.00 86.20L456.00 93.40L454.90 99.70ZM454.90 224.00L456.00 224.50L456.00 227.50L454.90 228.00ZM454.90 260.00L456.50 260.50L456.50 262.10L454.90 262.50Z" fill="#000" stroke="#000" stroke-width="0.5" stroke-linejoin="round"/>
<path d="M463.4 80.0V346.3" stroke="#999" stroke-width="1" fill="none"/>
<path d="M463.40 79.60L470.00 80.00L470.00 81.50L466.00 82.30L464.80 84.00L464.80 91.00L466.00 93.40L467.60 95.00L470.80 98.10L474.00 101.30L476.30 104.40L477.00 106.00L500.00 106.60L509.50 106.80L490.00 107.10L472.40 107.40L480.00 108.50L494.50 109.20L470.80 110.00L465.30 111.50L464.50 113.00L464.50 124.70L465.30 125.50L469.20 127.30L465.30 128.50L463.40 130.00ZM463.40 286.60L465.00 287.00L465.00 288.20L463.40 288.60ZM463.40 345.50L464.20 346.30L463.40 346.30Z" fill="#000" stroke="#000" stroke-width="0.5" stroke-linejoin="round"/>
<path d="M516.0 80.0V346.3" stroke="#111" stroke-width="1" fill="none"/>
<path d="M516.00 79.60L517.00 80.00L517.00 111.00L517.60 115.00L517.00 120.00L518.00 125.00L517.40 130.00L518.20 133.20L521.40 134.70L524.00 136.50L527.70 137.10L540.30 137.50L528.00 137.90L529.30 138.70L534.00 141.00L549.80 141.80L532.00 142.30L530.80 143.40L537.10 145.00L535.50 146.60L529.30 148.20L527.70 150.50L525.00 152.90L549.80 153.80L522.00 154.30L519.80 155.30L521.40 156.90L523.50 160.00L524.50 161.60L521.40 163.20L525.00 166.30L522.00 168.00L523.00 169.50L527.70 171.10L522.90 172.70L520.00 174.20L519.00 177.40L519.80 180.60L517.60 182.00L519.80 185.00L519.80 186.60L521.40 188.20L521.40 191.30L520.00 192.90L520.00 199.20L523.00 200.80L526.10 201.80L523.50 203.20L522.50 204.00L522.50 207.10L523.00 208.70L523.00 210.30L521.40 211.90L521.40 215.00L523.70 216.60L523.70 218.20L520.50 219.80L521.40 224.50L519.00 226.00L520.00 230.80L522.90 232.40L522.90 235.60L521.40 237.10L521.40 240.00L522.90 243.20L523.70 244.00L522.00 246.00L523.70 246.30L521.40 247.90L521.40 251.00L522.90 251.80L522.90 254.20L523.70 255.00L523.70 257.40L521.50 259.00L521.50 263.70L521.00 264.50L521.00 266.00L529.20 267.60L529.20 269.20L525.00 270.00L525.00 271.60L525.50 272.40L525.50 275.50L527.70 276.30L527.70 278.70L522.50 279.50L522.50 282.70L523.50 283.40L523.50 285.80L521.00 287.40L521.00 290.60L521.80 291.30L521.00 292.00L522.50 295.20L524.50 296.00L524.50 298.30L521.00 299.10L521.00 301.50L520.30 303.00L520.30 306.20L522.00 307.00L522.10 312.50L520.50 314.10L520.50 318.90L522.30 319.60L522.30 322.00L519.50 323.60L519.50 329.90L518.80 331.50L518.80 337.80L520.50 339.40L520.50 344.10L519.50 345.00L519.50 346.30L516.00 346.30Z" fill="#000" stroke="#000" stroke-width="0.5" stroke-linejoin="round"/>
<path d="M559.3 80.0V346.3" stroke="#111" stroke-width="1" fill="none"/>
<path d="M559.30 79.60L560.50 80.00L560.50 91.00L561.20 91.80L560.50 93.00L560.50 111.00L564.50 111.80L566.00 113.50L572.40 113.90L566.00 114.30L565.00 115.80L563.00 116.60L563.50 119.70L566.00 120.30L572.40 120.50L564.00 120.90L562.00 122.00L562.90 128.40L567.60 129.20L561.30 130.00L562.90 132.40L566.00 133.20L566.00 135.50L578.70 137.10L580.00 138.70L589.80 140.30L577.10 141.00L574.00 142.60L567.60 144.20L567.60 145.80L564.50 147.40L564.50 149.70L570.00 151.50L580.30 152.10L570.00 152.80L564.50 153.70L564.50 155.30L565.30 156.90L566.80 160.00L565.30 163.00L566.80 166.30L563.00 168.00L564.50 172.00L562.90 175.80L566.00 177.40L570.00 179.40L575.50 179.80L570.00 180.20L566.00 180.60L566.00 182.00L566.80 185.00L566.80 186.60L564.50 187.40L564.50 189.00L567.60 190.50L567.60 192.10L574.00 192.60L574.00 193.20L570.00 194.00L566.00 194.50L566.00 196.00L569.00 197.60L567.60 199.20L567.60 202.40L574.00 204.70L579.00 205.60L574.00 206.30L567.60 207.90L567.60 210.30L572.40 211.90L572.40 214.20L578.70 215.80L583.40 216.80L597.70 217.40L583.00 218.00L575.50 219.00L575.50 221.30L572.40 222.90L572.40 225.30L566.00 226.90L566.00 230.00L572.40 231.60L572.40 233.20L581.90 235.60L581.90 237.10L574.00 237.90L574.00 239.50L586.60 240.00L586.60 241.60L578.00 242.40L578.00 243.20L586.60 244.00L586.60 245.50L576.00 246.00L576.00 246.30L590.00 247.10L605.60 247.90L590.00 248.70L585.00 249.50L585.00 251.00L581.00 251.80L581.00 253.40L590.00 254.20L607.10 255.00L590.00 255.80L578.00 256.60L578.00 258.20L575.00 259.00L575.00 261.30L590.60 262.10L590.60 263.70L595.00 264.50L602.40 265.20L595.00 266.00L584.30 266.90L584.30 268.40L574.80 269.20L574.80 270.80L590.00 271.60L605.60 272.40L590.00 273.20L574.80 274.00L574.80 275.50L578.00 276.30L574.50 278.70L568.10 279.50L568.10 281.00L571.30 282.70L571.30 285.00L566.50 285.80L566.50 287.40L571.30 289.80L565.00 292.00L565.00 293.60L566.50 294.40L566.50 296.00L577.00 296.70L577.00 298.30L572.00 299.10L574.00 301.50L570.00 302.30L570.00 304.60L573.00 305.40L573.00 307.80L576.30 308.60L576.30 310.20L571.60 311.00L571.60 314.10L570.80 315.70L570.80 318.00L568.50 318.90L568.50 320.40L570.00 321.20L570.00 323.60L574.80 325.20L574.80 326.80L570.00 327.50L570.00 329.90L573.00 330.70L573.00 332.30L565.50 333.10L565.50 337.80L568.50 338.60L568.50 340.20L566.30 341.00L566.30 346.30L559.30 346.30Z" fill="#000" stroke="#000" stroke-width="0.5" stroke-linejoin="round"/>
<path d="M610.5 80.0V346.3" stroke="#111" stroke-width="1" fill="none"/>
<path d="M610.50 80.00L615.30 80.40L619.20 81.50L624.00 83.10L620.80 84.70L622.40 86.30L627.10 87.80L633.50 89.40L639.80 91.00L635.00 92.60L622.40 93.40L616.00 94.20L614.50 95.70L616.90 98.10L620.00 101.30L622.40 103.60L617.70 106.00L612.90 107.60L611.80 109.20L612.90 110.80L620.80 112.30L630.30 113.90L624.00 115.20L627.10 116.80L638.20 117.90L625.60 119.00L630.30 120.50L635.00 122.10L624.00 123.40L617.70 125.00L620.80 126.60L644.50 127.80L624.00 129.70L621.40 130.00L624.50 131.60L630.00 132.40L634.00 134.00L649.80 134.70L632.00 135.50L629.20 136.30L626.00 138.70L621.40 139.50L621.40 142.60L616.60 144.20L627.70 145.80L627.70 147.40L616.50 149.00L616.50 151.30L618.00 152.90L619.00 155.30L630.80 156.10L635.00 157.50L641.90 158.40L641.90 160.00L629.00 161.60L628.00 164.00L621.40 164.80L621.40 166.30L646.60 167.90L646.60 168.70L624.00 170.30L624.00 171.90L643.50 173.40L643.50 175.00L621.40 175.80L621.40 177.40L629.20 180.60L629.20 182.10L627.70 183.70L623.00 185.00L626.00 186.60L620.00 187.40L620.00 189.00L630.00 189.70L638.70 190.10L630.00 190.50L618.00 191.30L618.00 192.90L629.20 194.50L635.00 196.00L651.40 196.80L635.00 197.60L626.00 198.40L626.00 200.00L620.00 200.80L620.00 202.40L618.20 204.00L619.80 205.50L630.00 207.10L638.70 207.90L630.00 208.70L616.60 209.50L618.20 212.60L618.20 213.40L619.80 216.60L620.00 218.20L623.00 221.30L627.70 222.90L630.80 224.50L637.20 225.30L651.40 226.90L640.30 227.70L637.20 230.80L634.00 232.40L643.50 234.00L638.00 235.60L643.50 237.10L647.10 239.50L646.60 240.00L646.60 241.60L627.70 242.40L627.70 243.20L649.80 244.00L649.80 245.50L640.00 246.00L643.50 246.30L643.50 247.90L649.80 248.70L649.80 250.30L643.50 251.00L645.00 254.20L643.50 255.00L643.50 257.40L637.20 258.20L637.20 260.50L634.00 261.30L634.00 262.90L649.80 263.70L649.80 265.30L653.00 266.00L653.00 267.60L620.50 268.40L620.50 270.00L629.20 270.80L629.20 272.40L622.00 273.20L624.50 276.30L619.00 277.90L620.50 281.00L617.00 282.70L618.20 287.40L615.00 288.20L615.00 290.60L616.00 292.00L615.00 292.10L617.50 295.20L621.40 296.70L621.40 299.90L617.40 300.70L617.40 303.10L619.80 303.80L619.80 306.20L620.60 307.00L620.60 309.40L618.20 310.20L618.20 312.50L622.90 314.10L622.90 317.30L620.60 318.00L620.60 320.40L624.50 321.20L624.50 324.40L619.80 325.20L621.40 329.90L626.10 330.70L626.10 332.30L627.70 333.10L627.70 335.40L621.40 336.20L621.40 339.40L616.60 340.20L616.60 342.60L624.50 343.30L624.50 345.70L620.00 346.30L610.50 346.30Z" fill="#000" stroke="#000" stroke-width="0.5" stroke-linejoin="round"/>
<path d="M660.8 80.0V346.3" stroke="#111" stroke-width="1" fill="none"/>
<path d="M660.80 79.60L662.30 80.00L662.30 91.00L663.50 91.50L663.50 92.60L662.00 93.50L661.90 109.00L665.00 113.00L664.20 117.00L666.00 119.00L669.00 121.80L665.80 124.20L664.20 126.60L662.90 130.00L662.90 131.60L667.60 132.40L667.60 134.00L671.60 134.70L676.30 137.10L687.40 137.90L690.00 139.50L701.60 139.80L695.00 140.70L690.00 141.50L685.80 142.60L678.00 144.20L674.00 145.00L674.00 149.00L678.70 150.50L682.70 152.90L681.00 154.50L662.20 155.30L662.20 156.00L671.60 156.90L673.20 160.00L670.00 161.60L671.60 164.80L673.20 166.30L673.20 168.00L670.00 169.50L666.50 171.00L668.00 174.20L674.00 175.80L674.00 177.40L681.90 179.80L672.00 180.60L674.50 183.70L674.00 184.50L671.60 185.00L673.20 186.60L669.00 187.40L669.00 189.00L670.00 189.70L670.00 191.30L672.40 192.10L672.40 193.70L667.00 194.50L666.80 197.60L663.00 198.40L663.00 200.00L678.00 200.80L690.60 201.20L680.00 201.60L677.90 202.40L677.90 204.00L682.70 204.70L682.70 206.30L672.40 207.10L673.20 208.70L673.20 210.30L673.20 211.90L676.30 213.40L676.30 215.00L680.00 215.80L690.00 216.80L698.50 217.40L685.00 218.50L676.30 219.80L676.30 221.30L677.90 222.90L677.90 224.50L670.00 225.30L670.00 226.90L665.30 228.40L663.70 230.80L670.00 232.40L673.20 234.00L670.00 235.60L671.60 238.70L673.20 240.00L676.30 241.60L676.30 244.00L672.40 244.70L672.00 246.00L673.20 247.90L671.00 248.70L671.00 251.80L673.20 252.60L672.00 254.20L670.30 255.00L670.30 257.40L665.30 258.20L665.30 259.70L670.30 260.50L672.50 263.70L665.30 264.50L665.30 266.00L671.60 266.90L674.80 270.00L678.00 270.80L682.00 271.80L689.00 272.40L682.00 273.00L677.90 274.00L679.50 277.10L681.10 277.90L681.10 279.50L677.00 280.30L677.00 282.70L681.10 283.40L681.10 285.80L674.00 286.60L675.50 289.00L678.00 289.80L673.20 292.00L673.20 293.60L672.00 294.40L679.50 296.00L679.50 297.50L676.30 298.30L676.30 300.70L670.50 301.50L670.50 304.60L674.80 305.40L674.80 307.80L675.50 308.60L675.50 310.20L669.00 311.00L669.00 312.50L672.40 313.30L672.40 315.70L669.00 316.50L669.00 318.90L671.00 319.50L671.00 321.20L669.00 322.00L669.00 323.60L668.30 324.40L668.30 326.80L667.50 328.30L667.50 331.50L665.30 332.30L665.30 334.70L663.70 336.20L663.70 337.80L665.00 338.60L666.10 340.20L666.10 341.00L666.10 344.10L664.50 344.90L664.50 346.30L660.80 346.30Z" fill="#000" stroke="#000" stroke-width="0.5" stroke-linejoin="round"/>
<path d="M712.2 80.0V346.3" stroke="#555" stroke-width="1" fill="none"/>
<path d="M712.20 90.00L713.80 90.70L713.80 93.00L713.60 94.60L713.60 97.70L714.90 99.30L714.90 102.00L716.40 104.00L718.80 106.20L713.60 107.80L713.80 110.10L713.60 112.40L714.10 116.30L715.00 120.00L717.20 121.00L723.40 121.70L714.10 123.30L713.60 125.60L713.60 128.00L713.60 140.00L713.60 144.00L713.60 150.00L715.00 156.90L715.00 158.40L713.60 160.00L713.60 174.00L713.60 176.00L713.60 178.00L715.00 180.60L715.00 183.70L714.50 185.00L715.50 186.60L716.60 187.40L714.00 188.50L714.00 194.50L714.00 196.00L713.60 197.00L717.40 200.80L719.00 204.00L717.40 207.10L713.60 208.50L717.40 210.30L718.00 213.00L719.00 215.00L719.00 216.60L717.00 218.50L718.20 221.30L714.00 222.20L714.00 226.00L713.60 227.00L713.60 229.20L713.60 232.40L713.60 233.00L713.60 240.00L715.00 246.00L715.00 250.00L715.00 255.00L715.00 260.00L715.00 262.00L715.00 270.00L715.00 282.70L715.00 287.40L715.00 288.00L715.00 292.00L715.00 295.20L715.00 301.50L717.40 302.30L717.40 304.60L715.80 305.40L715.80 307.80L718.20 308.60L718.20 311.00L715.80 311.70L715.80 314.10L717.40 314.90L717.40 317.30L715.80 318.00L715.80 320.40L718.20 321.20L718.20 323.60L715.80 324.40L715.80 326.80L717.40 327.50L717.40 329.90L719.00 331.50L719.00 335.40L716.60 336.20L716.60 339.40L717.40 340.20L717.40 342.60L715.00 343.30L714.00 346.30L712.20 346.30Z" fill="#000" stroke="#000" stroke-width="0.5" stroke-linejoin="round"/>
<path d="M728.0 80.0V346.3" stroke="#444" stroke-width="1" fill="none"/>
<path d="M728.00 79.60L729.30 80.00L729.30 93.00L729.30 105.40L734.30 106.20L730.40 107.80L731.20 113.20L729.60 115.50L729.60 117.90L731.20 121.00L734.30 123.30L730.40 124.80L729.60 127.20L729.60 128.00L729.60 150.00L729.60 160.00L729.60 170.00L729.60 180.00L730.80 182.00L730.00 185.00L730.80 189.70L729.60 191.00L730.80 194.50L730.80 196.80L729.60 197.50L729.80 200.80L729.80 205.50L729.60 206.50L730.00 210.30L730.80 216.60L729.60 217.50L732.40 224.50L732.40 226.00L729.60 226.50L729.60 232.40L729.60 238.70L729.60 240.00L729.60 246.00L729.60 246.00L729.60 250.00L729.60 260.50L729.60 262.10L729.60 263.00L729.60 292.00L730.00 301.50L729.60 302.00L730.00 306.20L730.00 309.40L729.60 310.00L729.60 315.00L729.60 316.50L729.60 317.00L729.60 327.50L730.80 328.30L730.80 331.50L729.60 332.00L730.80 339.40L730.80 341.00L729.60 341.50L730.00 342.60L731.50 346.30L728.00 346.30Z" fill="#000" stroke="#000" stroke-width="0.5" stroke-linejoin="round"/>
<path d="M743.2 80.0V346.3" stroke="#555" stroke-width="1" fill="none"/>
<path d="M743.20 80.20L748.20 80.60L746.70 82.20L744.30 83.80L744.30 85.30L745.10 86.90L745.10 90.00L745.90 91.50L745.90 93.80L744.30 95.40L744.30 97.70L745.00 99.30L746.70 101.60L746.70 104.00L745.50 106.20L744.30 108.60L745.90 113.20L744.30 116.30L748.20 120.20L745.90 122.50L750.50 125.60L745.10 127.20L745.00 130.00L745.00 131.60L743.20 132.50ZM743.20 155.00L744.80 156.00L743.20 157.00ZM743.20 232.40L745.80 233.20L745.80 234.80L743.20 235.50ZM743.20 298.30L745.00 299.10L745.00 302.30L743.20 303.00ZM743.20 310.00L744.20 318.90L744.20 322.00L743.20 322.50ZM743.20 330.70L745.00 331.50L745.00 336.20L744.00 337.00L744.00 342.00L743.20 346.30Z" fill="#000" stroke="#000" stroke-width="0.5" stroke-linejoin="round"/>
<text transform="translate(39.5,69.9) rotate(-90)" font-size="10" font-style="italic" textLength="26.2" lengthAdjust="spacingAndGlyphs">Acacia</text>
<text transform="translate(52.7,69.9) rotate(-90)" font-size="10" font-style="italic" textLength="22.7" lengthAdjust="spacingAndGlyphs">Alnus</text>
<text transform="translate(74.9,69.9) rotate(-90)" font-size="10" textLength="61.6" lengthAdjust="spacingAndGlyphs">Amaranthaceae</text>
<text transform="translate(103.4,69.9) rotate(-90)" font-size="10" font-style="italic" textLength="37.3" lengthAdjust="spacingAndGlyphs">Ambrosia</text>
<text transform="translate(125.6,69.9) rotate(-90)" font-size="10" textLength="44.4" lengthAdjust="spacingAndGlyphs">Asteraceae</text>
<text transform="translate(146.0,69.9) rotate(-90)" font-size="10" textLength="32.0" lengthAdjust="spacingAndGlyphs">Begonia</text>
<text transform="translate(182.5,69.9) rotate(-90)" font-size="10" font-style="italic" textLength="39.3" lengthAdjust="spacingAndGlyphs">Brosimum</text>
<text transform="translate(208.4,69.9) rotate(-90)" font-size="10" font-style="italic" textLength="31.0" lengthAdjust="spacingAndGlyphs">Bursera</text>
<text transform="translate(220.8,69.9) rotate(-90)" font-size="10" font-style="italic" textLength="41.3" lengthAdjust="spacingAndGlyphs">Byrsonima</text>
<text transform="translate(234.7,69.9) rotate(-90)" font-size="10" textLength="64.0" lengthAdjust="spacingAndGlyphs">Caesalpiniaceae</text>
<text transform="translate(251.1,69.9) rotate(-90)" font-size="10" textLength="35.0" lengthAdjust="spacingAndGlyphs">Cecropia</text>
<text transform="translate(283.3,69.9) rotate(-90)" font-size="10" textLength="22.7" lengthAdjust="spacingAndGlyphs">Celtis</text>
<text transform="translate(337.5,69.9) rotate(-90)" font-size="10" textLength="46.5" lengthAdjust="spacingAndGlyphs">Cyperaceae</text>
<text transform="translate(371.0,69.9) rotate(-90)" font-size="10" textLength="62.0" lengthAdjust="spacingAndGlyphs">Convolvulaceae</text>
<text transform="translate(386.0,69.9) rotate(-90)" font-size="10" font-style="italic" textLength="32.0" lengthAdjust="spacingAndGlyphs">Eugenia</text>
<text transform="translate(406.2,69.9) rotate(-90)" font-size="10" font-style="italic" textLength="21.7" lengthAdjust="spacingAndGlyphs">Ficus</text>
<text transform="translate(422.2,69.9) rotate(-90)" font-size="10" font-style="italic" textLength="31.0" lengthAdjust="spacingAndGlyphs">Juglans</text>
<text transform="translate(441.3,69.9) rotate(-90)" font-size="10" textLength="68.0" lengthAdjust="spacingAndGlyphs">Melastomataceae</text>
<text transform="translate(460.7,69.9) rotate(-90)" font-size="10" font-style="italic" textLength="31.0" lengthAdjust="spacingAndGlyphs">Mimosa</text>
<text transform="translate(490.3,69.9) rotate(-90)" font-size="10" textLength="39.0" lengthAdjust="spacingAndGlyphs">Moraceae</text>
<text transform="translate(536.9,69.9) rotate(-90)" font-size="10" font-style="italic" textLength="26.0" lengthAdjust="spacingAndGlyphs">Myrica</text>
<text transform="translate(588.0,69.9) rotate(-90)" font-size="10" font-style="italic" textLength="22.7" lengthAdjust="spacingAndGlyphs">Pinus</text>
<text transform="translate(640.8,69.9) rotate(-90)" font-size="10" textLength="35.0" lengthAdjust="spacingAndGlyphs">Poaceae</text>
<text transform="translate(686.9,69.9) rotate(-90)" font-size="10" textLength="33.0" lengthAdjust="spacingAndGlyphs">Quercus</text>
<text transform="translate(721.3,69.9) rotate(-90)" font-size="10" textLength="30.0" lengthAdjust="spacingAndGlyphs">Sapium</text>
<text transform="translate(737.8,69.9) rotate(-90)" font-size="10" textLength="37.0" lengthAdjust="spacingAndGlyphs">Spondias</text>
<text transform="translate(752.3,69.9) rotate(-90)" font-size="10" font-style="italic" textLength="25.7" lengthAdjust="spacingAndGlyphs">Trema</text>
<text class="n" x="29.0" y="363.6" font-size="12" textLength="4.6" lengthAdjust="spacingAndGlyphs">0</text>
<text class="n" x="35.9" y="363.6" font-size="12" textLength="9.2" lengthAdjust="spacingAndGlyphs">10</text>
<text class="n" x="51.3" y="363.6" font-size="12" textLength="9.2" lengthAdjust="spacingAndGlyphs">20</text>
<text class="n" x="68.4" y="363.6" font-size="12" textLength="9.2" lengthAdjust="spacingAndGlyphs">20</text>
<text class="n" x="81.6" y="363.6" font-size="12" textLength="9.2" lengthAdjust="spacingAndGlyphs">40</text>
<text class="n" x="98.0" y="363.6" font-size="12" textLength="9.2" lengthAdjust="spacingAndGlyphs">20</text>
<text class="n" x="119.6" y="363.6" font-size="12" textLength="9.2" lengthAdjust="spacingAndGlyphs">20</text>
<text class="n" x="143.3" y="363.6" font-size="12" textLength="9.2" lengthAdjust="spacingAndGlyphs">20</text>
<text class="n" x="166.3" y="363.6" font-size="12" textLength="9.2" lengthAdjust="spacingAndGlyphs">20</text>
<text class="n" x="179.5" y="363.6" font-size="12" textLength="9.2" lengthAdjust="spacingAndGlyphs">40</text>
<text class="n" x="192.0" y="363.6" font-size="12" textLength="9.2" lengthAdjust="spacingAndGlyphs">60</text>
<text class="n" x="202.5" y="363.6" font-size="12" textLength="9.2" lengthAdjust="spacingAndGlyphs">10</text>
<text class="n" x="219.4" y="363.6" font-size="12" textLength="9.2" lengthAdjust="spacingAndGlyphs">20</text>
<text class="n" x="234.4" y="363.6" font-size="12" textLength="9.2" lengthAdjust="spacingAndGlyphs">20</text>
<text class="n" x="249.9" y="363.6" font-size="12" textLength="9.2" lengthAdjust="spacingAndGlyphs">20</text>
<text class="n" x="267.4" y="363.6" font-size="12" textLength="9.2" lengthAdjust="spacingAndGlyphs">20</text>
<text class="n" x="280.4" y="363.6" font-size="12" textLength="9.2" lengthAdjust="spacingAndGlyphs">40</text>
<text class="n" x="294.9" y="363.6" font-size="12" textLength="9.2" lengthAdjust="spacingAndGlyphs">60</text>
<text class="n" x="316.7" y="363.6" font-size="12" textLength="12.6" lengthAdjust="spacingAndGlyphs">150</text>
<text class="n" x="330.5" y="363.6" font-size="12" textLength="12.6" lengthAdjust="spacingAndGlyphs">300</text>
<text class="n" x="346.6" y="363.6" font-size="12" textLength="12.6" lengthAdjust="spacingAndGlyphs">450</text>
<text class="n" x="367.8" y="363.6" font-size="12" textLength="9.2" lengthAdjust="spacingAndGlyphs">20</text>
<text class="n" x="384.2" y="363.6" font-size="12" textLength="9.2" lengthAdjust="spacingAndGlyphs">20</text>
<text class="n" x="401.2" y="363.6" font-size="12" textLength="9.2" lengthAdjust="spacingAndGlyphs">20</text>
<text class="n" x="417.0" y="363.6" font-size="12" textLength="9.2" lengthAdjust="spacingAndGlyphs">10</text>
<text class="n" x="432.8" y="363.6" font-size="12" textLength="9.2" lengthAdjust="spacingAndGlyphs">20</text>
<text class="n" x="445.9" y="363.6" font-size="12" textLength="9.2" lengthAdjust="spacingAndGlyphs">40</text>
<text class="n" x="456.4" y="363.6" font-size="12" textLength="9.2" lengthAdjust="spacingAndGlyphs">10</text>
<text class="n" x="468.6" y="363.6" font-size="12" textLength="12.6" lengthAdjust="spacingAndGlyphs">200</text>
<text class="n" x="492.8" y="363.6" font-size="12" textLength="12.6" lengthAdjust="spacingAndGlyphs">600</text>
<text class="n" x="521.7" y="363.6" font-size="12" textLength="9.2" lengthAdjust="spacingAndGlyphs">20</text>
<text class="n" x="535.3" y="363.6" font-size="12" textLength="9.2" lengthAdjust="spacingAndGlyphs">40</text>
<text class="n" x="549.1" y="363.6" font-size="12" textLength="9.2" lengthAdjust="spacingAndGlyphs">60</text>
<text class="n" x="565.8" y="363.6" font-size="12" textLength="12.6" lengthAdjust="spacingAndGlyphs">160</text>
<text class="n" x="590.7" y="363.6" font-size="12" textLength="12.6" lengthAdjust="spacingAndGlyphs">480</text>
<text class="n" x="618.7" y="363.6" font-size="12" textLength="9.2" lengthAdjust="spacingAndGlyphs">20</text>
<text class="n" x="631.8" y="363.6" font-size="12" textLength="9.2" lengthAdjust="spacingAndGlyphs">40</text>
<text class="n" x="645.9" y="363.6" font-size="12" textLength="9.2" lengthAdjust="spacingAndGlyphs">60</text>
<text class="n" x="670.1" y="363.6" font-size="12" textLength="12.6" lengthAdjust="spacingAndGlyphs">200</text>
<text class="n" x="701.7" y="363.6" font-size="12" textLength="12.6" lengthAdjust="spacingAndGlyphs">600</text>
<text class="n" x="718.3" y="363.6" font-size="12" textLength="9.2" lengthAdjust="spacingAndGlyphs">20</text>
<text class="n" x="734.7" y="363.6" font-size="12" textLength="9.2" lengthAdjust="spacingAndGlyphs">20</text>
<text class="n" x="749.2" y="363.6" font-size="12" textLength="9.2" lengthAdjust="spacingAndGlyphs">20</text>
<text class="n" x="20.2" y="84.7" font-size="13.2" textLength="5.0" lengthAdjust="spacingAndGlyphs">0</text>
<text class="n" x="20.2" y="109.5" font-size="13.2" textLength="5.0" lengthAdjust="spacingAndGlyphs">8</text>
<text class="n" x="17.7" y="134.3" font-size="13.2" textLength="10.0" lengthAdjust="spacingAndGlyphs">16</text>
<text class="n" x="17.7" y="159.1" font-size="13.2" textLength="10.0" lengthAdjust="spacingAndGlyphs">24</text>
<text class="n" x="17.7" y="183.9" font-size="13.2" textLength="10.0" lengthAdjust="spacingAndGlyphs">32</text>
<text class="n" x="17.7" y="208.7" font-size="13.2" textLength="10.0" lengthAdjust="spacingAndGlyphs">40</text>
<text class="n" x="17.7" y="233.5" font-size="13.2" textLength="10.0" lengthAdjust="spacingAndGlyphs">48</text>
<text class="n" x="17.7" y="258.3" font-size="13.2" textLength="10.0" lengthAdjust="spacingAndGlyphs">56</text>
<text class="n" x="17.7" y="283.1" font-size="13.2" textLength="10.0" lengthAdjust="spacingAndGlyphs">64</text>
<text class="n" x="17.7" y="307.9" font-size="13.2" textLength="10.0" lengthAdjust="spacingAndGlyphs">72</text>
<text class="n" x="17.7" y="332.7" font-size="13.2" textLength="10.0" lengthAdjust="spacingAndGlyphs">80</text>
<text transform="translate(11.2,234) rotate(-90)" font-size="12" textLength="37.5" lengthAdjust="spacingAndGlyphs">Age (ka)</text>
<text x="177.4" y="383.2" font-size="11.5" textLength="457.8" lengthAdjust="spacingAndGlyphs">Percent pollen of selected taxa, expressed as a percentage of the pollen sum (Correa-Metrio et al. 2012).</text>
</svg></body></html>
